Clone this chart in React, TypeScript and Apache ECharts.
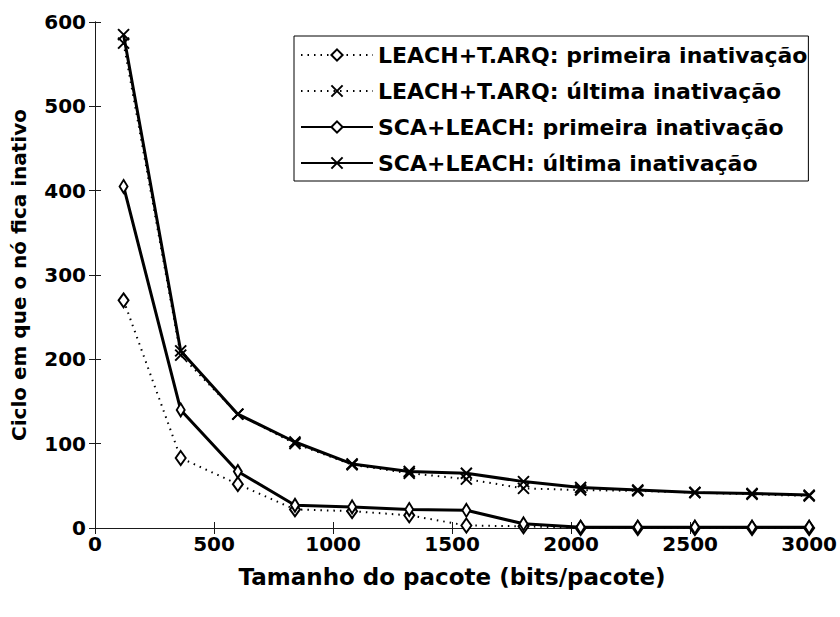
import React, { useEffect, useRef } from "react";
import * as echarts from "echarts";

// Packet sizes (bits/packet)
const packetSizes = [120, 360, 600, 840, 1080, 1320, 1560, 1800, 2040, 2280, 2520, 2760, 3000];

// Round in which nodes become inactive
const leachArqFirst = [270, 83, 52, 22, 20, 15, 3, 2, 0, 0, 0, 0, 0];
const leachArqLast = [575, 205, 135, 100, 75, 65, 58, 47, 45, 44, 42, 40, 38];
const scaLeachFirst = [405, 140, 67, 27, 25, 22, 21, 5, 1, 1, 1, 1, 1];
const scaLeachLast = [585, 210, 135, 102, 76, 67, 65, 55, 48, 45, 42, 41, 39];

const seriesNames = [
  "LEACH+T.ARQ: primeira inativação",
  "LEACH+T.ARQ: última inativação",
  "SCA+LEACH: primeira inativação",
  "SCA+LEACH: última inativação",
];

const xTitle = "Tamanho do pacote (bits/pacote)";
const yTitle = "Ciclo em que o nó fica inativo";

const FONT = "'DejaVu Sans', 'Liberation Sans', Arial, sans-serif";
const CROSS = "path://M0,0L10,10M10,0L0,10";

const pairs = (ys: number[]) => packetSizes.map((x, i) => [x, ys[i]]);

export default function App() {
  const ref = useRef<HTMLDivElement>(null);

  useEffect(() => {
    if (!ref.current) return;
    const chart = echarts.init(ref.current, undefined, { renderer: "svg" });

    const axisLine = { show: true, lineStyle: { color: "#1a1a1a", width: 1 } };
    const axisTick = { show: true, inside: true, length: 6, lineStyle: { color: "#1a1a1a" } };
    const tickLabel = {
      color: "#000",
      fontFamily: FONT,
      fontSize: 20,
      fontWeight: "bold" as const,
      formatter: (v: number) => String(v),
    };

    const mk = (name: string, data: number[], dotted: boolean, symbol: string, size: number | number[], width: number) => ({
      name,
      type: "line",
      data: pairs(data),
      symbol,
      symbolSize: size,
      showSymbol: true,
      lineStyle: { color: "#000", width, type: dotted ? [1.5, 5] : "solid" },
      itemStyle: {
        color: symbol === "diamond" ? "#fff" : "#000",
        borderColor: "#000",
        borderWidth: 2,
      },
      emphasis: { disabled: true },
      z: dotted ? 2 : 3,
    });

    chart.setOption({
      animation: false,
      backgroundColor: "#fff",
      grid: { left: 95, right: 28, top: 22, bottom: 89, containLabel: false },
      legend: {
        left: 294,
        top: 36,
        orient: "vertical",
        backgroundColor: "#fff",
        borderColor: "#000",
        borderWidth: 1,
        borderRadius: 0,
        padding: [8, 1, 7, 6],
        itemGap: 14,
        itemWidth: 72,
        itemHeight: 14,
        textStyle: { color: "#000", fontFamily: FONT, fontSize: 22, fontWeight: "bold" },
        data: seriesNames,
        selectedMode: false,
      },
      xAxis: [
        {
          type: "value",
          min: 0,
          max: 3000,
          interval: 500,
          name: xTitle,
          nameLocation: "middle",
          nameGap: 37,
          nameTextStyle: { color: "#000", fontFamily: FONT, fontSize: 23, fontWeight: "bold" },
          axisLine,
          axisTick,
          axisLabel: { ...tickLabel, margin: 6 },
          splitLine: { show: false },
        },
        {
          type: "value",
          position: "top",
          min: 0,
          max: 3000,
          interval: 500,
          axisLine,
          axisTick,
          axisLabel: { show: false },
          splitLine: { show: false },
        },
      ],
      yAxis: [
        {
          type: "value",
          min: 0,
          max: 600,
          interval: 100,
          name: yTitle,
          nameLocation: "middle",
          nameGap: 66,
          nameTextStyle: { color: "#000", fontFamily: FONT, fontSize: 20, fontWeight: "bold" },
          axisLine,
          axisTick,
          axisLabel: { ...tickLabel, margin: 9 },
          splitLine: { show: false },
        },
        {
          type: "value",
          position: "right",
          min: 0,
          max: 600,
          interval: 100,
          axisLine,
          axisTick,
          axisLabel: { show: false },
          splitLine: { show: false },
        },
      ],
      series: [
        mk(seriesNames[0], leachArqFirst, true, "diamond", [10, 14], 2),
        mk(seriesNames[1], leachArqLast, true, CROSS, 11, 2),
        mk(seriesNames[2], scaLeachFirst, false, "diamond", [8, 13], 3),
        mk(seriesNames[3], scaLeachLast, false, CROSS, 11, 3),
      ],
    });

    return () => chart.dispose();
  }, []);

  return <div ref={ref} style={{ position: "absolute", left: 0, top: 0, width: 840, height: 617 }} />;
}
